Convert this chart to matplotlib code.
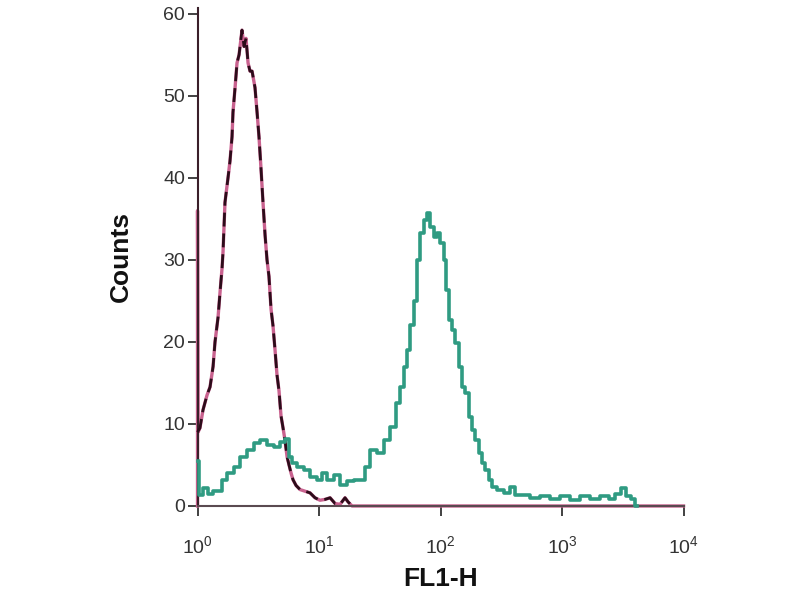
import matplotlib
matplotlib.use("Agg")
import matplotlib.pyplot as plt
import numpy as np

plt.rcParams['font.family'] = ['Liberation Sans', 'DejaVu Sans']
plt.rcParams['mathtext.fontset'] = 'custom'
plt.rcParams['mathtext.rm'] = 'Liberation Sans'
plt.rcParams['mathtext.it'] = 'Liberation Sans'

# Control (isotype) histogram: position in decades, counts
ctrl_dec = [0.0, 0.02, 0.045, 0.078, 0.103, 0.128, 0.144, 0.169, 0.185, 0.202, 0.21,
            0.226, 0.251, 0.267, 0.284, 0.292, 0.309, 0.325, 0.342, 0.358, 0.366,
            0.383, 0.399, 0.416, 0.432, 0.449, 0.473, 0.49, 0.506, 0.523, 0.539,
            0.556, 0.572, 0.588, 0.605, 0.621, 0.638, 0.654, 0.671, 0.687, 0.704,
            0.72, 0.737, 0.753, 0.77, 0.786, 0.811, 0.844, 0.885, 0.926, 0.967,
            1.008, 1.049, 1.091, 1.132, 1.173, 1.214, 1.239, 1.272]
ctrl_cnt = [9, 9.5, 11.7, 13.5, 14.5, 17, 20, 23, 26, 29, 31,
            37, 40, 42, 45, 48, 51, 54, 55, 57, 58,
            56, 57, 54, 53, 53, 51, 48, 45, 41, 37,
            33, 30, 28, 24, 22, 19, 16, 14, 11, 9.5,
            8, 6, 5, 4, 3.2, 2.5, 2, 1.8, 1.6, 1,
            0.7, 0.8, 1, 0.3, 0.2, 1, 0.5, 0]

# Unstained histogram (pink), first channel pile-up on the axis
unst_dec = [0.0, 0.0, 0.004] + ctrl_dec[1:] + [4.0]
unst_cnt = [0, 36, 9] + ctrl_cnt[1:] + [0]

# Stained sample histogram (teal)
stain_dec = [0.0, 0.029, 0.062, 0.103, 0.144, 0.185, 0.21, 0.267, 0.325, 0.374,
             0.432, 0.49, 0.539, 0.597, 0.654, 0.704, 0.737, 0.761, 0.786, 0.844,
             0.901, 0.951, 1.008, 1.033, 1.091, 1.148, 1.198, 1.255, 1.313, 1.362,
             1.395, 1.444, 1.502, 1.56, 1.609, 1.65, 1.683, 1.708, 1.733, 1.765,
             1.79, 1.815, 1.848, 1.872, 1.897, 1.93, 1.955, 1.979, 2.012, 2.037,
             2.053, 2.078, 2.103, 2.136, 2.16, 2.185, 2.218, 2.243, 2.267, 2.3,
             2.325, 2.35, 2.383, 2.407, 2.432, 2.49, 2.547, 2.588, 2.63, 2.695,
             2.778, 2.86, 2.942, 3.025, 3.107, 3.189, 3.272, 3.354, 3.412, 3.461,
             3.502, 3.543, 3.584, 3.617]
stain_cnt = [5.5, 1.3, 2.2, 1.5, 1.8, 1.8, 3.2, 4, 4.8, 6,
             6.8, 7.7, 8.0, 7.4, 7.2, 7.8, 8.2, 6, 5.2, 4.8,
             4.4, 3.5, 3.2, 4, 3.2, 3.8, 2.6, 3, 3.2, 3.2,
             4.8, 6.8, 6.5, 8, 9.6, 12.5, 14.5, 17, 19, 22,
             25, 30, 33.3, 34.9, 35.7, 34, 32.8, 33.3, 32, 30,
             26.3, 22.7, 21.5, 19.9, 17, 14.5, 13.8, 10.9, 9.3, 8,
             6.5, 5.2, 4.4, 3.2, 2.3, 2, 1.6, 2.3, 1.3, 1.3,
             1.0, 1.2, 0.9, 1.2, 0.7, 1.2, 0.8, 1.2, 0.8, 1.5,
             2.2, 1.2, 0.8, 0]

y_ticks = [0, 10, 20, 30, 40, 50, 60]
x_ticks = [1, 10, 100, 1000, 10000]
x_tick_labels = [r'$10^{0}$', r'$10^{1}$', r'$10^{2}$', r'$10^{3}$', r'$10^{4}$']

fig = plt.figure(figsize=(8, 6), dpi=100)
ax = fig.add_axes([0.2469, 0.1567, 0.6075, 0.83])

for s in ['top', 'right']:
    ax.spines[s].set_visible(False)
ax.spines['left'].set_color('#3a1f2a')
ax.spines['left'].set_linewidth(1.5)
ax.spines['bottom'].set_color('#5a4a50')
ax.spines['bottom'].set_linewidth(1.5)
ax.spines['left'].set_zorder(3.2)
ax.spines['bottom'].set_zorder(3.2)

ax.plot(10 ** np.array(unst_dec), unst_cnt, color='#c9628f', lw=2.4, zorder=3,
        clip_on=False)
ax.plot(10 ** np.array(ctrl_dec), ctrl_cnt, color='#2c0c1a', lw=2.0,
        dashes=(5, 2.5), zorder=3.5, clip_on=False)
ax.plot(10 ** np.array(stain_dec), stain_cnt, color='#2f9b82', lw=2.6,
        drawstyle='steps-mid', zorder=4, clip_on=False)

ax.set_xscale('log')
ax.set_xlim(1, 10000)
ax.set_ylim(0, 60.7)
ax.set_xticks(x_ticks)
ax.set_xticklabels(x_tick_labels)
ax.xaxis.set_minor_locator(matplotlib.ticker.NullLocator())
ax.set_yticks(y_ticks)

ax.tick_params(axis='y', direction='out', length=7, width=1.3, colors='#333333',
               labelsize=14, pad=2)
ax.tick_params(axis='x', direction='out', length=7, width=1.3, colors='#333333',
               labelsize=14, pad=14)

ax.set_ylabel('Counts', fontsize=19, fontweight='bold', color='#111111', labelpad=22)
ax.set_xlabel('FL1-H', fontsize=19, fontweight='bold', color='#111111', labelpad=7)

fig.savefig('out.png', dpi=100, facecolor='white')
